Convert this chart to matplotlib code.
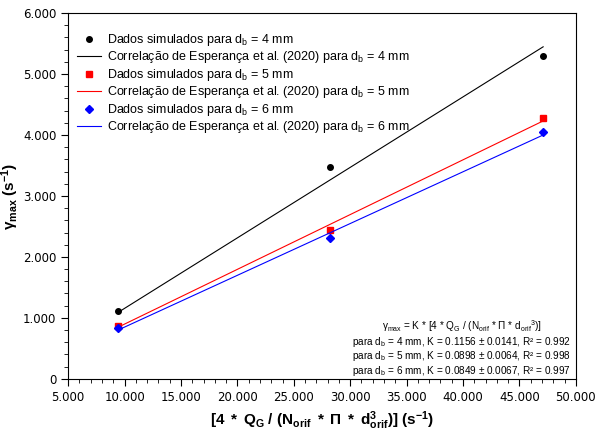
import numpy as np
import matplotlib.pyplot as plt
from matplotlib.ticker import MultipleLocator, FuncFormatter

# data
x_sim = [9400, 28250, 47100]
y_db4 = [1115, 3475, 5295]
y_db5 = [869, 2443, 4279]
y_db6 = [836, 2311, 4049]

# correlation constants K (gamma_max = K * x)
K_db4 = 0.1156
K_db5 = 0.0898
K_db6 = 0.0849

plt.rcParams['font.family'] = ['Liberation Sans', 'DejaVu Sans']
plt.rcParams['mathtext.fontset'] = 'custom'
plt.rcParams['mathtext.rm'] = 'Liberation Sans'
plt.rcParams['mathtext.it'] = 'Liberation Sans'
plt.rcParams['mathtext.bf'] = 'Liberation Sans:bold'

fig = plt.figure(figsize=(6.03, 4.32), dpi=100)
ax = fig.add_axes([0.113, 0.123, 0.842, 0.847])

xl = np.array([x_sim[0], x_sim[-1]])

ax.plot(x_sim, y_db4, 'o', color='black', ms=4, label=r'Dados simulados para d$_b$ = 4 mm')
ax.plot(xl, K_db4 * xl, '-', color='black', lw=0.8, label=r'Correlação de Esperança et al. (2020) para d$_b$ = 4 mm')
ax.plot(x_sim, y_db5, 's', color='red', ms=4, label=r'Dados simulados para d$_b$ = 5 mm')
ax.plot(xl, K_db5 * xl, '-', color='red', lw=0.8, label=r'Correlação de Esperança et al. (2020) para d$_b$ = 5 mm')
ax.plot(x_sim, y_db6, 'D', color='blue', ms=4, label=r'Dados simulados para d$_b$ = 6 mm')
ax.plot(xl, K_db6 * xl, '-', color='blue', lw=0.8, label=r'Correlação de Esperança et al. (2020) para d$_b$ = 6 mm')

ax.set_xlim(5000, 50000)
ax.set_ylim(0, 6000)
ax.xaxis.set_major_locator(MultipleLocator(5000))
ax.xaxis.set_minor_locator(MultipleLocator(1000))
ax.yaxis.set_major_locator(MultipleLocator(1000))
ax.yaxis.set_minor_locator(MultipleLocator(200))
fmt = FuncFormatter(lambda v, p: f"{v:,.0f}".replace(",", "."))
ax.xaxis.set_major_formatter(fmt)
ax.yaxis.set_major_formatter(fmt)
ax.tick_params(which='both', direction='out', top=False, right=False, labelsize=8.5)
ax.tick_params(which='major', length=5)
ax.tick_params(which='minor', length=3)
for lab in ax.get_xticklabels() + ax.get_yticklabels():
    lab.set_family('DejaVu Sans')

ax.set_xlabel(r'$\mathbf{[4\ *\ Q_G\ /\ (N_{orif}\ *\ \Pi\ *\ d_{orif}^{3})]\ (s^{-1})}$', fontsize=11)
ax.set_ylabel(r'$\mathbf{\gamma_{max}\ (s^{-1})}$', fontsize=11)
ax.yaxis.set_label_coords(-0.093, 0.5)

ax.legend(loc='upper left', bbox_to_anchor=(0.0, 0.972), frameon=False, fontsize=9,
          handlelength=1.9, labelspacing=0.12, handletextpad=0.5, borderaxespad=0.3)

note = (r'$\gamma_{max}$ = K * [4 * Q$_G$ / (N$_{orif}$ * $\Pi$ * d$_{orif}$$^3$)]' + '\n'
        + r'para d$_b$ = 4 mm, K = 0.1156 ± 0.0141, R² = 0.992' + '\n'
        + r'para d$_b$ = 5 mm, K = 0.0898 ± 0.0064, R² = 0.998' + '\n'
        + r'para d$_b$ = 6 mm, K = 0.0849 ± 0.0067, R² = 0.997')
ax.text(0.775, 0.003, note, transform=ax.transAxes, ha='center', va='bottom',
        fontsize=7.2, linespacing=1.05)

fig.savefig('out.png', dpi=100)
